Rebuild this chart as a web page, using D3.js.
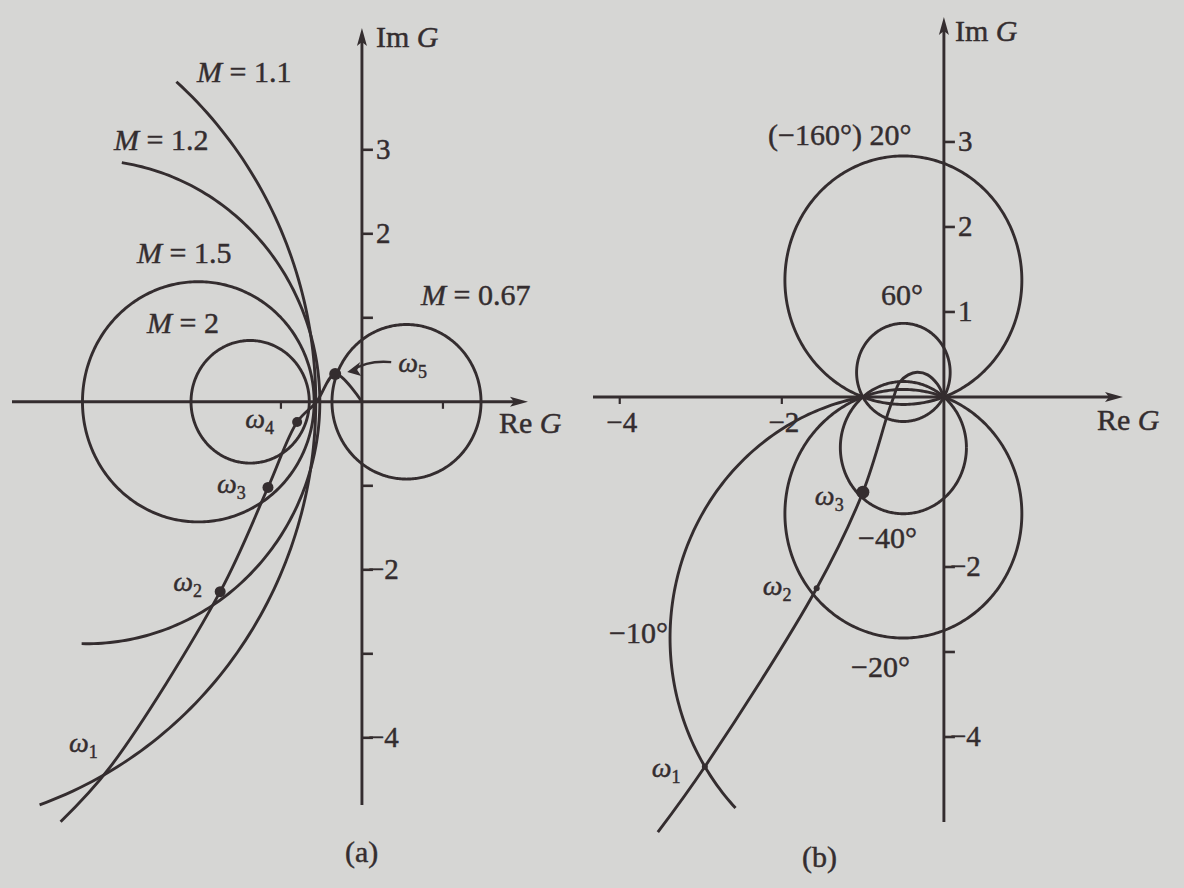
<!DOCTYPE html>
<html>
<head>
<meta charset="utf-8">
<script src="https://cdn.jsdelivr.net/npm/d3@7"></script>
<style>
  html, body { margin: 0; padding: 0; background: #d6d6d4; }
  svg text { font-family: "Liberation Serif", "Times New Roman", serif; fill: #342d2f;
             stroke: #342d2f; stroke-width: 0.45px; }
</style>
</head>
<body>
<svg id="chart" width="1184" height="888"></svg>
<script>
// ---------- Panel (a): constant-M circles and the G(jω) locus ----------
const mLabels  = ["1.1", "1.2", "1.5", "2", "0.67"];
const mCenters = [-5.65, -3.40, -2.02, -1.38, 0.55];   // centre on the real axis
const mRadii   = [5.08, 2.88, 1.43, 0.73, 0.92];
const mArcFrom = [-70.8, -91.2, 0, 0, 0];              // drawn arc, degrees
const mArcTo   = [48.6, 81.3, 360, 360, 360];

const locusARe = [-3.72, -3.11, -1.75, -1.16, -0.80, -0.56, -0.33, 0];
const locusAIm = [-5.00, -4.35, -2.26, -1.02, -0.24, 0.00, 0.33, 0];
const omegaANames = ["1", "2", "3", "4", "5"];
const omegaAIndex = [1, 2, 3, 4, 6];      // points of the locus that carry ω labels
const omegaADot   = [0, 5.5, 5.5, 5, 6];  // dot radius (0 = plain crossing)

const imTicksA = [3, 2, 1, -1, -2, -3, -4];
const imTickTextA = ["3", "2", "", "", "\u22122", "", "\u22124"];
const reTicksA = [-1, 1];

// ---------- Panel (b): constant-N (phase) circles and the locus ----------
const nAngles   = [20, 60, -40, -20, -10];
const nArcTo    = [360, 360, 360, 360, 224];   // -10° is only drawn on its left side
const locusBRe = [-3.53, -2.95, -1.57, -1.00, -0.69, -0.62, -0.55, -0.44, -0.33, -0.20, -0.08, 0];
const locusBIm = [-5.12, -4.35, -2.25, -1.12, -0.19, 0.00, 0.17, 0.26, 0.29, 0.26, 0.15, 0];
const omegaBNames = ["1", "2", "3"];
const omegaBIndex = [1, 2, 3];
const omegaBDot   = [3, 3, 6.5];

const imTicksB = [3, 2, 1, -2, -3, -4];
const imTickTextB = ["3", "2", "1", "\u22122", "", "\u22124"];
const reTicksB = [-4, -2];
const reTickTextB = ["\u22124", "\u22122"];

// ---------- drawing ----------
const INK = "#342d2f";
const LW = 2.9;
const FS = 30;
const svg = d3.select("#chart");

const xA = d3.scaleLinear().domain([-4.32, 2.05]).range([12, 528]);
const yA = d3.scaleLinear().domain([-4.8, 4.45]).range([805, 28]);
const xB = d3.scaleLinear().domain([-4.33, 2.21]).range([593, 1123]);
const yB = d3.scaleLinear().domain([-5.0, 4.47]).range([822, 17]);

function circlePoints(cx, cy, r, a0, a1) {
  const pts = [];
  const n = Math.max(8, Math.ceil(Math.abs(a1 - a0)));
  for (let i = 0; i <= n; i++) {
    const t = (a0 + (a1 - a0) * i / n) * Math.PI / 180;
    pts.push([cx + r * Math.cos(t), cy + r * Math.sin(t)]);
  }
  return pts;
}

function axes(g, x, y, opts) {
  const [x0, x1] = x.domain(), [y0, y1] = y.domain();
  g.append("line").attr("x1", x(x0)).attr("x2", x(x1) - 10)
    .attr("y1", y(0)).attr("y2", y(0))
    .attr("stroke", INK).attr("stroke-width", LW);
  g.append("line").attr("x1", x(0)).attr("x2", x(0))
    .attr("y1", y(y0)).attr("y2", y(y1) + 10)
    .attr("stroke", INK).attr("stroke-width", LW);
  // arrow heads
  const ax = x(x1), ay = y(0);
  g.append("path").attr("d", `M${ax},${ay} L${ax - 18},${ay - 5} L${ax - 14},${ay} L${ax - 18},${ay + 5} Z`)
    .attr("fill", INK);
  const bx = x(0), by = y(y1);
  g.append("path").attr("d", `M${bx},${by} L${bx - 5},${by + 18} L${bx},${by + 14} L${bx + 5},${by + 18} Z`)
    .attr("fill", INK);
  // ticks on the imaginary axis
  opts.imTicks.forEach((v, i) => {
    g.append("line").attr("x1", x(0)).attr("x2", x(0) + 11)
      .attr("y1", y(v)).attr("y2", y(v))
      .attr("stroke", INK).attr("stroke-width", 2.6);
    if (opts.imText[i]) {
      g.append("text").attr("x", x(0) + (opts.imText[i].length > 1 ? 6 : 14))
        .attr("y", y(v) + 9).attr("font-size", FS - 1).text(opts.imText[i]);
    }
  });
  // ticks on the real axis
  opts.reTicks.forEach((v, i) => {
    g.append("line").attr("x1", x(v)).attr("x2", x(v))
      .attr("y1", y(0)).attr("y2", y(0) + 7)
      .attr("stroke", INK).attr("stroke-width", 2.2);
    if (opts.reText && opts.reText[i]) {
      g.append("text").attr("x", x(v) + 2).attr("y", y(0) + 35)
        .attr("text-anchor", "middle").attr("font-size", FS - 1).text(opts.reText[i]);
    }
  });
  // axis names
  const im = g.append("text").attr("x", x(0) + opts.imName[0]).attr("y", opts.imName[1]).attr("font-size", FS);
  im.append("tspan").text("Im ");
  im.append("tspan").attr("font-style", "italic").text("G");
  const re = g.append("text").attr("x", opts.reName[0]).attr("y", y(0) + opts.reName[1]).attr("font-size", FS);
  re.append("tspan").text("Re ");
  re.append("tspan").attr("font-style", "italic").text("G");
}

function omegaLabel(g, px, py, sub) {
  const t = g.append("text").attr("x", px).attr("y", py).attr("font-size", FS - 2);
  t.append("tspan").attr("font-style", "italic").text("\u03c9");
  t.append("tspan").attr("dy", 6).attr("font-size", 18).text(sub);
}

// ----- panel (a) -----
const gA = svg.append("g");
axes(gA, xA, yA, {
  imTicks: imTicksA, imText: imTickTextA, reTicks: reTicksA,
  imName: [14, 47], reName: [499, 31]
});

const lineA = d3.line().x(d => xA(d[0])).y(d => yA(d[1]));
mCenters.forEach((c, i) => {
  gA.append("path")
    .attr("d", lineA(circlePoints(c, 0, mRadii[i], mArcFrom[i], mArcTo[i])))
    .attr("fill", "none").attr("stroke", INK).attr("stroke-width", LW);
});

const locusA = locusARe.map((re, i) => [re, locusAIm[i]]);
gA.append("path")
  .attr("d", d3.line().x(d => xA(d[0])).y(d => yA(d[1])).curve(d3.curveCatmullRom.alpha(0.5))(locusA))
  .attr("fill", "none").attr("stroke", INK).attr("stroke-width", LW);

omegaAIndex.forEach((k, i) => {
  if (omegaADot[i] > 0) {
    gA.append("circle").attr("cx", xA(locusA[k][0])).attr("cy", yA(locusA[k][1]))
      .attr("r", omegaADot[i]).attr("fill", INK);
  }
});

// M labels
const mLabelPos = [[197, 82], [114, 150], [137, 263], [147, 333], [421, 305]];
mLabels.forEach((m, i) => {
  const t = gA.append("text").attr("x", mLabelPos[i][0]).attr("y", mLabelPos[i][1]).attr("font-size", FS);
  t.append("tspan").attr("font-style", "italic").text("M");
  t.append("tspan").text(" = " + m);
});

// ω labels, offsets from their points
const omegaAOffset = [[-41, -15], [-47, -1], [-51, 6], [-52, 6], [63, -2]];
omegaAIndex.forEach((k, i) => {
  omegaLabel(gA, xA(locusA[k][0]) + omegaAOffset[i][0], yA(locusA[k][1]) + omegaAOffset[i][1], omegaANames[i]);
});
// leader from the ω5 label to its point
{
  const p = locusA[omegaAIndex[4]];
  const px = xA(p[0]), py = yA(p[1]);
  const sx = px + 56, sy = py - 12, ex = px + 12, ey = py - 2;
  gA.append("path")
    .attr("d", `M${sx},${sy} Q${px + 32},${py - 14} ${ex + 6},${ey - 2}`)
    .attr("fill", "none").attr("stroke", INK).attr("stroke-width", 2.4);
  gA.append("path")
    .attr("d", `M${ex},${ey} L${ex + 13},${ey - 10} L${ex + 10},${ey - 2} L${ex + 14},${ey + 4} Z`)
    .attr("fill", INK);
}
gA.append("text").attr("x", 345).attr("y", 862).attr("font-size", FS).text("(a)");

// ----- panel (b) -----
const gB = svg.append("g");
axes(gB, xB, yB, {
  imTicks: imTicksB, imText: imTickTextB, reTicks: reTicksB, reText: reTickTextB,
  imName: [11, 41], reName: [1097, 33]
});

const lineB = d3.line().x(d => xB(d[0])).y(d => yB(d[1]));
nAngles.forEach((deg, i) => {
  const N = Math.tan(deg * Math.PI / 180);
  const cx = -0.5, cy = 1 / (2 * N);
  const r = 0.5 / Math.abs(Math.sin(deg * Math.PI / 180));
  // start the arc where the circle passes through -1 + j0
  const a0 = nArcTo[i] === 360 ? 0 : Math.atan2(0 - cy, -1 - cx) * 180 / Math.PI;
  gB.append("path")
    .attr("d", lineB(circlePoints(cx, cy, r, a0, nArcTo[i])))
    .attr("fill", "none").attr("stroke", INK).attr("stroke-width", LW);
});

const locusB = locusBRe.map((re, i) => [re, locusBIm[i]]);
gB.append("path")
  .attr("d", d3.line().x(d => xB(d[0])).y(d => yB(d[1])).curve(d3.curveCatmullRom.alpha(0.5))(locusB))
  .attr("fill", "none").attr("stroke", INK).attr("stroke-width", LW);
omegaBIndex.forEach((k, i) => {
  gB.append("circle").attr("cx", xB(locusB[k][0])).attr("cy", yB(locusB[k][1]))
    .attr("r", omegaBDot[i]).attr("fill", INK);
});
const omegaBOffset = [[-53, 10], [-54, 7], [-48, 13]];
omegaBIndex.forEach((k, i) => {
  omegaLabel(gB, xB(locusB[k][0]) + omegaBOffset[i][0], yB(locusB[k][1]) + omegaBOffset[i][1], omegaBNames[i]);
});

const nLabelText = ["(\u2212160\u00b0) 20\u00b0", "60\u00b0", "\u221240\u00b0", "\u221220\u00b0", "\u221210\u00b0"];
const nLabelPos = [[768, 145], [881, 305], [858, 548], [851, 677], [609, 643]];
nLabelText.forEach((s, i) => {
  gB.append("text").attr("x", nLabelPos[i][0]).attr("y", nLabelPos[i][1]).attr("font-size", FS).text(s);
});
gB.append("text").attr("x", 802).attr("y", 867).attr("font-size", FS).text("(b)");
</script>
</body>
</html>
